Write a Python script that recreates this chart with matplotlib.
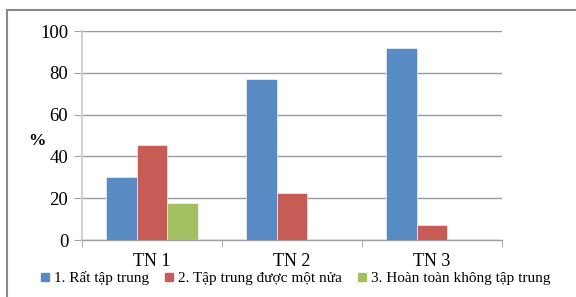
import numpy as np
import matplotlib.pyplot as plt
from matplotlib.lines import Line2D

# Data
categories = ['TN 1', 'TN 2', 'TN 3']
series_names = ['1. Rất tập trung', '2. Tập trung được một nửa',
                '3. Hoàn toàn không tập trung']
rat_tap_trung = [30.0, 77.2, 92.0]
mot_nua = [45.3, 22.5, 7.3]
khong_tap_trung = [17.8, 0, 0]
colors = ['#588BC4', '#C75C57', '#A3C163']

plt.rcParams['font.family'] = ['Liberation Serif', 'DejaVu Serif']

fig = plt.figure(figsize=(5.76, 2.97), dpi=100)
ax = fig.add_axes([0.1424, 0.1919, 0.7291, 0.7037])

x = np.arange(len(categories))
w = 0.22
values = [rat_tap_trung, mot_nua, khong_tap_trung]
for i, vals in enumerate(values):
    v = np.array(vals, dtype=float)
    h = np.where(v > 0, v, np.nan)
    ax.bar(x + (i - 1) * w, h, width=w, color=colors[i], zorder=3,
           edgecolor='white', linewidth=0.4)

ax.set_xlim(-0.5, 2.5)
ax.set_ylim(0, 100)
ax.set_yticks(range(0, 101, 20))
ax.grid(axis='y', color='#9a9a9a', linewidth=1.0, zorder=0)
for s in ['top', 'right']:
    ax.spines[s].set_visible(False)
ax.spines['left'].set_color('#d0d0d0')
ax.spines['left'].set_linewidth(1.5)
ax.spines['bottom'].set_color('#a0a0a0')
ax.spines['bottom'].set_linewidth(1.0)

ax.set_xticks(x)
ax.set_xticklabels(categories, fontsize=13)
ax.set_xticks([-0.5, 0.5, 1.5, 2.5], minor=True)
ax.tick_params(axis='x', which='major', length=0, pad=9)
ax.tick_params(axis='x', which='minor', length=5, color='#a0a0a0')
ax.tick_params(axis='y', length=6, color='#a0a0a0', labelsize=13.5, pad=4)

fig.text(37 / 576, 1 - 141 / 297, '%', fontsize=12.5, fontweight='bold',
         ha='center', va='center')

handles = [Line2D([], [], marker='s', linestyle='none', markersize=6,
                  markerfacecolor=c, markeredgecolor=c) for c in colors]
fig.legend(handles, series_names, loc='center', ncol=3,
           bbox_to_anchor=(0.51, 0.064), frameon=False, fontsize=11,
           handletextpad=0.1, columnspacing=0.8, handlelength=1.0)

# Outer frame (top and left edges visible)
fig.add_artist(Line2D([6.5 / 576, 1.0], [1 - 9.5 / 297] * 2,
                      color='#8a8a8a', linewidth=1.5))
fig.add_artist(Line2D([6.5 / 576] * 2, [0.0, 1 - 9.5 / 297],
                      color='#8a8a8a', linewidth=1.5))

fig.savefig('out.png', dpi=100)
